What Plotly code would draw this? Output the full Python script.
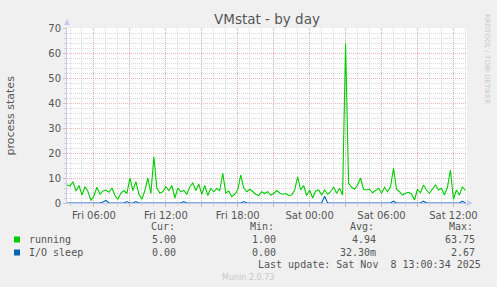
import plotly.graph_objects as go
import pandas as pd

# ---- data (15-minute samples from Fri 03:45 to Sat 13:00) ----
start_time = "2025-11-07 03:45"
running = [
    7.2, 6.8, 8.5, 4.8, 7.0, 3.2, 6.5, 4.6, 1.0, 2.8,
    6.3, 3.5, 4.8, 5.2, 4.3, 6.0, 3.0, 1.5, 4.0, 5.0,
    3.8, 10.0, 5.0, 8.5, 3.5, 1.5, 5.0, 10.0, 3.8, 18.5,
    6.0, 4.0, 4.5, 6.5, 5.0, 7.0, 2.0, 6.0, 4.5, 5.0,
    3.5, 6.5, 8.0, 5.0, 7.5, 3.5, 7.0, 3.0, 5.8, 4.5,
    5.8, 5.0, 11.9, 4.0, 4.8, 2.5, 3.5, 5.2, 11.2, 6.0,
    4.5, 5.5, 4.6, 3.5, 3.0, 4.5, 3.8, 4.5, 3.2, 3.8,
    5.0, 4.0, 3.5, 3.8, 3.0, 3.2, 5.2, 10.5, 5.2, 7.0,
    3.0, 5.2, 2.0, 4.8, 5.2, 3.2, 5.2, 3.5, 4.5, 6.3,
    3.9, 5.9, 3.2, 63.75, 7.9, 6.3, 5.5, 7.2, 9.9, 5.5,
    5.2, 5.5, 4.1, 5.2, 5.9, 3.9, 6.3, 4.5, 6.5, 13.9,
    5.5, 4.5, 3.2, 3.9, 4.3, 3.6, 1.2, 5.5, 4.1, 7.2,
    5.2, 3.9, 5.5, 7.2, 5.2, 5.9, 3.2, 6.3, 13.2, 1.5,
    5.2, 3.2, 6.5, 5.0,
]
io_sleep = [0.0] * len(running)
io_spikes = {12: 0.4, 13: 1.0, 20: 0.6, 23: 0.6, 39: 0.6, 59: 0.6,
             86: 2.67, 109: 0.7, 119: 0.7, 132: 0.7}
for k, v in io_spikes.items():
    io_sleep[k] = v

times = pd.date_range(start_time, periods=len(running), freq="15min")
x_range = ["2025-11-07 03:45", "2025-11-08 13:08"]

tick_times = pd.date_range("2025-11-07 06:00", "2025-11-08 12:00", freq="3h")
tick_text = [t.strftime("%a %H:%M") if t.hour % 6 == 0 else "" for t in tick_times]

legend_rows = [
    ("running", "#00CC00", "5.00", "1.00", "4.94", "63.75"),
    ("I/O sleep", "#0066B3", "0.00", "0.00", "32.30m", "2.67"),
]

# ---- layout geometry helpers (pixels -> paper) ----
W, H = 497, 287
ML, MR, MT, MB = 67, 30, 28, 84
PW, PH = W - ML - MR, H - MT - MB


def px(x):
    return (x - ML) / PW


def py(y):
    return (H - MB - y) / PH


fig = go.Figure()
fig.add_trace(go.Scatter(x=times, y=running, mode="lines",
                         line=dict(color="#00CC00", width=1.1), name="running"))
fig.add_trace(go.Scatter(x=times, y=io_sleep, mode="lines",
                         line=dict(color="#0066B3", width=1.1), name="I/O sleep"))

TXT = "#555555"
MAJ = "rgba(225,140,140,0.6)"
MIN = "rgba(175,175,175,0.45)"
AX = "#C8C8F0"

fig.update_layout(
    width=W, height=H,
    margin=dict(l=ML, r=MR, t=MT, b=MB),
    paper_bgcolor="#F0F0F0", plot_bgcolor="#FFFFFF",
    showlegend=False,
    font=dict(family="DejaVu Sans", size=10, color=TXT),
)
fig.update_xaxes(
    type="date", range=x_range,
    tickmode="array", tickvals=tick_times, ticktext=tick_text,
    ticks="outside", ticklen=3, tickcolor=MAJ,
    showgrid=True, gridcolor=MAJ, griddash="1px,1px", gridwidth=1,
    minor=dict(dtick=3600000, tick0="2025-11-07 00:00", showgrid=True,
               gridcolor=MIN, griddash="1px,1px", ticks="outside", ticklen=2,
               tickcolor=MIN),
    showline=True, linecolor=AX, linewidth=1, zeroline=False,
    tickfont=dict(size=10, color=TXT), fixedrange=True,
)
fig.update_yaxes(
    range=[0, 70], dtick=10, tick0=0,
    ticks="outside", ticklen=3, tickcolor=MAJ,
    showgrid=True, gridcolor=MAJ, griddash="1px,1px", gridwidth=1,
    minor=dict(dtick=2, showgrid=True, gridcolor=MIN, griddash="1px,1px",
               ticks="outside", ticklen=2, tickcolor=MIN),
    showline=True, linecolor=AX, linewidth=1, zeroline=False,
    tickfont=dict(size=10, color=TXT), fixedrange=True,
)

ann = []
ann.append(dict(text="VMstat - by day", x=0.5, y=py(19), xref="paper", yref="paper",
                xanchor="center", yanchor="middle", showarrow=False,
                font=dict(family="DejaVu Sans", size=13.5, color=TXT)))
ann.append(dict(text="process states", x=px(10), y=0.5, xref="paper", yref="paper",
                xanchor="center", yanchor="middle", showarrow=False, textangle=-90,
                font=dict(family="DejaVu Sans", size=11, color=TXT)))
ann.append(dict(text="RRDTOOL / TOBI OETIKER", x=px(487), y=py(59), xref="paper", yref="paper",
                xanchor="center", yanchor="middle", showarrow=False, textangle=90,
                font=dict(family="DejaVu Sans", size=7, color="#C8C8C8")))
ann.append(dict(text="Munin 2.0.73", x=px(248), y=py(277), xref="paper", yref="paper",
                xanchor="center", yanchor="middle", showarrow=False,
                font=dict(family="DejaVu Sans", size=8, color="#C8C8C8")))

mono = dict(family="DejaVu Sans Mono", size=10, color=TXT)
headers = [("Cur:", 149), ("Min:", 248), ("Avg:", 348), ("Max:", 447)]
for t, xx in headers:
    ann.append(dict(text=t, x=px(xx), y=py(226), xref="paper", yref="paper",
                    xanchor="left", yanchor="middle", showarrow=False, font=mono))
right_edges = [178, 278, 378, 477]
shapes = []
for r, (name, color, *vals) in enumerate(legend_rows):
    yy = 239.5 + r * 13
    shapes.append(dict(type="rect", xref="paper", yref="paper",
                       x0=px(14), x1=px(20), y0=py(yy - 3), y1=py(yy + 3),
                       fillcolor=color, line=dict(width=0)))
    ann.append(dict(text=name, x=px(27), y=py(yy), xref="paper", yref="paper",
                    xanchor="left", yanchor="middle", showarrow=False, font=mono))
    for v, xr in zip(vals, right_edges):
        ann.append(dict(text=v, x=px(xr), y=py(yy), xref="paper", yref="paper",
                        xanchor="right", yanchor="middle", showarrow=False, font=mono))
ann.append(dict(text="Last update: Sat Nov  8 13:00:34 2025".replace("  ", "\u00a0\u00a0"),
                x=px(483), y=py(264), xref="paper", yref="paper",
                xanchor="right", yanchor="middle", showarrow=False, font=mono))

# axis arrows
shapes.append(dict(type="path", xref="paper", yref="paper",
                   path=f"M {px(64)} {py(25)} L {px(70)} {py(25)} L {px(67)} {py(19)} Z",
                   fillcolor=AX, line=dict(width=0)))
shapes.append(dict(type="path", xref="paper", yref="paper",
                   path=f"M {px(467)} {py(200)} L {px(467)} {py(206)} L {px(473)} {py(203)} Z",
                   fillcolor=AX, line=dict(width=0)))

fig.update_layout(annotations=ann, shapes=shapes)
fig.write_html("out.html")
